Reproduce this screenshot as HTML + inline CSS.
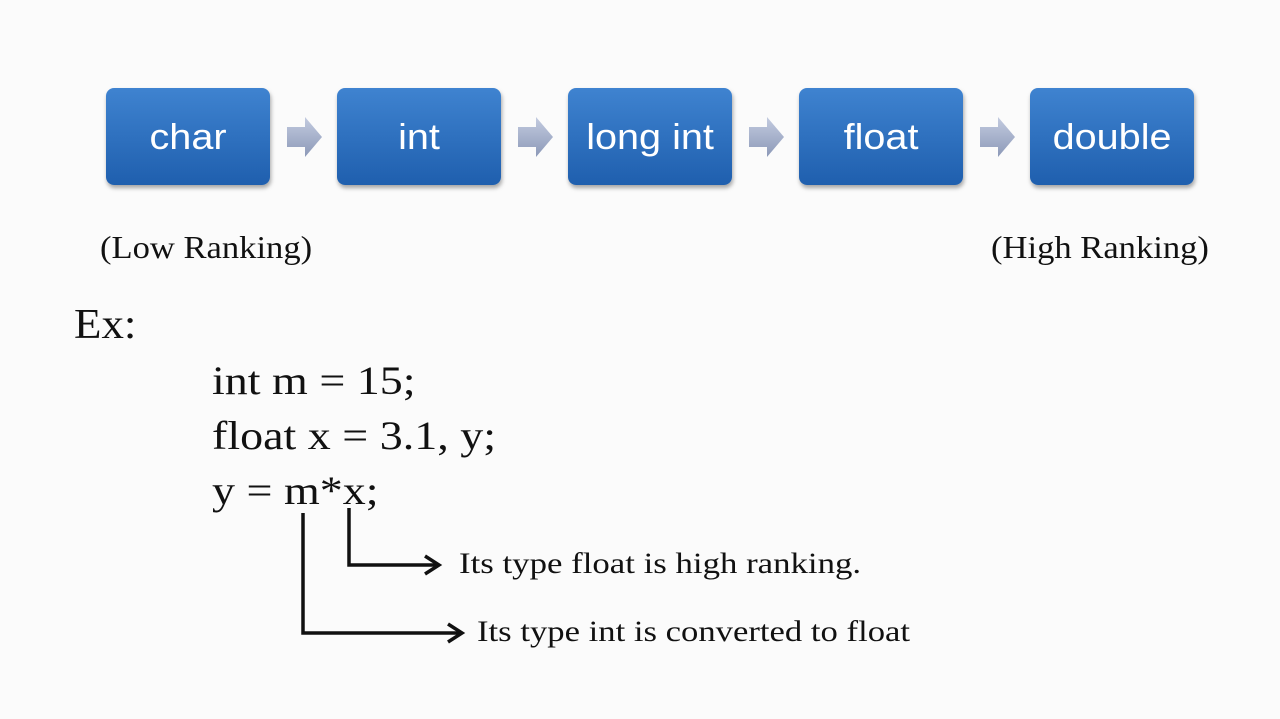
<!DOCTYPE html>
<html><head><meta charset="utf-8"><style>
body{margin:0;width:1280px;height:719px;background:#fbfbfb;position:relative;overflow:hidden;font-family:"Liberation Serif",serif;color:#111}
.box{position:absolute;top:88px;width:164px;height:97px;border-radius:8px;background:linear-gradient(#3f83d0,#1f5fae);box-shadow:1px 3px 4px rgba(0,0,0,.35);color:#fff;font:36px "Liberation Sans",sans-serif;display:flex;align-items:center;justify-content:center}
.box span{display:inline-block;transform:scaleX(1.1)}
.t{position:absolute;white-space:nowrap;transform-origin:0 0}
</style></head><body>
<div class="box" style="left:106px"><span>char</span></div>
<div class="box" style="left:337px"><span>int</span></div>
<div class="box" style="left:568px"><span>long int</span></div>
<div class="box" style="left:799px"><span>float</span></div>
<div class="box" style="left:1030px"><span>double</span></div>
<svg width="1280" height="719" style="position:absolute;left:0;top:0">
<defs><linearGradient id="g" x1="0" y1="0" x2="0" y2="1"><stop offset="0" stop-color="#c3cbe0"/><stop offset="1" stop-color="#8c99b8"/></linearGradient></defs>
<g fill="url(#g)">
<polygon points="287,127 305,127 305,117 322,137 305,157 305,147 287,147"/>
<polygon points="518,127 536,127 536,117 553,137 536,157 536,147 518,147"/>
<polygon points="749,127 767,127 767,117 784,137 767,157 767,147 749,147"/>
<polygon points="980,127 998,127 998,117 1015,137 998,157 998,147 980,147"/>
</g>
<g stroke="#111" stroke-width="3.5" fill="none">
<polyline points="349,508 349,565 438,565"/>
<polyline points="425,556 439,565 425,574"/>
<polyline points="303,513 303,633 461,633"/>
<polyline points="448,624 462,633 448,642"/>
</g>
</svg>
<div class="t" style="left:100px;top:229px;font-size:32px;transform:scaleX(1.08)">(Low Ranking)</div>
<div class="t" style="left:991px;top:229px;font-size:32px;transform:scaleX(1.08)">(High Ranking)</div>
<div class="t" style="left:74px;top:301px;font-size:42px;transform:scaleX(1.07)">Ex:</div>
<div class="t" style="left:212px;top:357px;font-size:40px;transform:scaleX(1.15)">int m = 15;</div>
<div class="t" style="left:212px;top:412px;font-size:40px;transform:scaleX(1.15)">float x = 3.1, y;</div>
<div class="t" style="left:212px;top:467px;font-size:40px;transform:scaleX(1.15)">y = m*x;</div>
<div class="t" style="left:459px;top:547px;font-size:30px;transform:scaleX(1.16)">Its type float is high ranking.</div>
<div class="t" style="left:477px;top:615px;font-size:30px;transform:scaleX(1.155)">Its type int is converted to float</div>
</body></html>
